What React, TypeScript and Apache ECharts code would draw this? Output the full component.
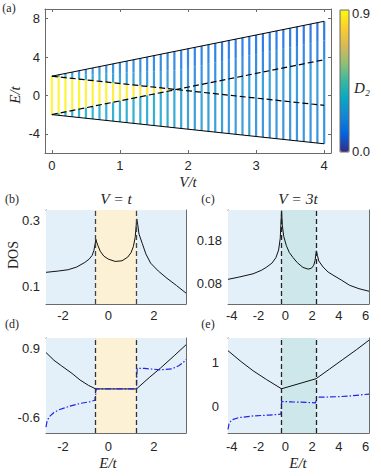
import { useEffect, useRef } from 'react';
import * as echarts from 'echarts';

// ---------- Panel (a): spectrum vs V ----------
const vGrid = [0, 0.1, 0.2, 0.3, 0.4, 0.5, 0.6, 0.7, 0.8, 0.9, 1.0, 1.1, 1.2, 1.3, 1.4, 1.5, 1.6, 1.7, 1.8, 1.9, 2.0,
  2.1, 2.2, 2.3, 2.4, 2.5, 2.6, 2.7, 2.8, 2.9, 3.0, 3.1, 3.2, 3.3, 3.4, 3.5, 3.6, 3.7, 3.8, 3.9, 4.0];
const upperEdge = [[0, 2.0], [4, 7.72]];
const lowerEdge = [[0, -2.0], [4, -5.04]];
const dashedDown = [[0, 2.0], [4, -1.04]];
const dashedUp = [[0, -2.0], [4, 3.72]];
const d2UpperOuter = [0.25, 0.25, 0.24, 0.24, 0.23, 0.23, 0.22, 0.22, 0.21, 0.21, 0.2, 0.2, 0.19, 0.19, 0.18, 0.18, 0.17, 0.17, 0.17,
  0.16, 0.15, 0.15, 0.14, 0.14, 0.13, 0.13, 0.13, 0.12, 0.12, 0.12, 0.12, 0.11, 0.11, 0.11, 0.11, 0.11, 0.1, 0.1, 0.1, 0.1, 0.1];
const d2UpperInner = [0.31, 0.31, 0.3, 0.3, 0.29, 0.29, 0.28, 0.28, 0.27, 0.27, 0.26, 0.26, 0.25, 0.25, 0.24, 0.24, 0.23, 0.23, 0.22,
  0.21, 0.21, 0.2, 0.2, 0.2, 0.19, 0.19, 0.19, 0.18, 0.18, 0.18, 0.17, 0.17, 0.17, 0.17, 0.16, 0.16, 0.16, 0.16, 0.15, 0.15, 0.15];
const d2Middle = [0.88, 0.88, 0.88, 0.88, 0.88, 0.87, 0.87, 0.87, 0.87, 0.86, 0.86, 0.86, 0.85, 0.85, 0.84, 0.84, 0.83, 0.82, 0.8,
  0.3, 0.29, 0.28, 0.28, 0.27, 0.27, 0.27, 0.26, 0.26, 0.26, 0.25, 0.25, 0.25, 0.25, 0.24, 0.24, 0.24, 0.24, 0.23, 0.23, 0.23, 0.23];
const d2Lower = [0.34, 0.34, 0.34, 0.34, 0.33, 0.33, 0.33, 0.33, 0.32, 0.32, 0.32, 0.31, 0.31, 0.31, 0.3, 0.3, 0.3, 0.29, 0.29,
  0.26, 0.25, 0.25, 0.25, 0.24, 0.24, 0.24, 0.23, 0.23, 0.23, 0.23, 0.22, 0.22, 0.22, 0.22, 0.21, 0.21, 0.21, 0.21, 0.2, 0.2, 0.2];
const aRangeV = [-0.1, 4.1];
const aRangeE = [-6, 9];
const aTicksV = [0, 1, 2, 3, 4];
const aTicksE = [-4, 0, 4, 8];
const d2Range = [0, 0.9];

// ---------- Panel (b): DOS, V = t ----------
const bRange = [-2.75, 3.42];
const bEdges = [-0.56, 1.24];
const dosBEnergy = [-2.75, -2.2, -1.77, -1.4, -1.04, -0.85, -0.72, -0.64, -0.58, -0.55, -0.52, -0.46, -0.36, -0.2, 0.0, 0.3, 0.6,
  0.85, 1.0, 1.1, 1.18, 1.25, 1.29, 1.35, 1.49, 1.65, 1.86, 2.2, 2.58, 3.0, 3.42];
const dosBValue = [0.144, 0.148, 0.152, 0.16, 0.174, 0.184, 0.195, 0.21, 0.232, 0.244, 0.236, 0.225, 0.208, 0.193, 0.184, 0.177, 0.179,
  0.19, 0.204, 0.222, 0.25, 0.306, 0.29, 0.26, 0.232, 0.2, 0.172, 0.148, 0.126, 0.104, 0.081];
const bDosRange = [0.048, 0.333];
const bTicksE = [-2, 0, 2];
const bTicksDos = [0.1, 0.3];

// ---------- Panel (c): DOS, V = 3t ----------
const cRange = [-4.28, 6.25];
const cEdges = [-0.28, 2.3];
const dosCEnergy = [-4.28, -3.5, -2.41, -1.8, -1.43, -1.0, -0.7, -0.5, -0.38, -0.28, -0.22, -0.12, 0.08, 0.3, 0.58, 0.9, 1.32, 1.7,
  1.95, 2.12, 2.22, 2.32, 2.4, 2.5, 2.82, 3.2, 3.56, 4.2, 4.8, 5.5, 6.25];
const dosCValue = [0.089, 0.094, 0.102, 0.11, 0.117, 0.127, 0.14, 0.158, 0.185, 0.25, 0.215, 0.19, 0.168, 0.152, 0.14, 0.128, 0.117, 0.113,
  0.115, 0.122, 0.133, 0.156, 0.145, 0.132, 0.118, 0.106, 0.099, 0.087, 0.075, 0.067, 0.061];
const cDosRange = [0.031, 0.252];
const cTicksE = [-4, -2, 0, 2, 4, 6];
const cTicksDos = [0.08, 0.18];

// ---------- Panel (d): gamma, V = t ----------
const gammaDEnergy = [-2.75, -2.4, -2.06, -1.6, -1.25, -0.88, -0.56, 1.24, 1.8, 2.3, 2.9, 3.42];
const gammaDValue = [0.82, 0.65, 0.525, 0.36, 0.216, 0.098, 0.02, 0.02, 0.27, 0.48, 0.75, 0.99];
const dGammaDEnergy = [-2.75, -2.7, -2.6, -2.4, -2.18, -1.7, -1.25, -0.8, -0.6, -0.56, -0.54, 1.24, 1.25, 1.27, 1.6, 2.3, 2.8, 3.1, 3.3, 3.42];
const dGammaDValue = [-0.82, -0.68, -0.59, -0.5, -0.44, -0.36, -0.3, -0.26, -0.23, -0.1, 0.02, 0.02, 0.3, 0.47, 0.47, 0.44, 0.46, 0.53, 0.6, 0.67];
const dRangeY = [-0.95, 1.14];
const dTicksY = [-0.6, 0.9];

// ---------- Panel (e): gamma, V = 3t ----------
const gammaEEnergy = [-4.28, -3.3, -2.4, -1.4, -0.28, 2.3, 3.3, 4.3, 5.3, 6.25];
const gammaEValue = [1.28, 1.03, 0.82, 0.62, 0.41, 0.64, 0.86, 1.08, 1.3, 1.52];
const dGammaEEnergy = [-4.28, -4.2, -4.0, -3.5, -2.4, -1.2, -0.33, -0.3, -0.28, 0.5, 1.5, 2.27, 2.3, 2.33, 3.0, 4.0, 5.0, 6.25];
const dGammaEValue = [-0.52, -0.38, -0.3, -0.25, -0.21, -0.19, -0.17, -0.08, 0.12, 0.11, 0.1, 0.09, 0.16, 0.22, 0.22, 0.23, 0.25, 0.29];
const eRangeY = [-0.6, 1.57];
const eTicksY = [0, 1];

// ---------- styling ----------
const PARULA = ['#352a87', '#0363e1', '#1485d4', '#06a7c6', '#38b99e', '#92bf73', '#d9ba56', '#fcce2e', '#f9fb0e'];
const SANS = '"Liberation Sans", Arial, Helvetica, sans-serif';
const SERIF = '"Liberation Serif", "Times New Roman", serif';
const AXIS_COLOR = '#6a6a6a';
const LABEL_COLOR = '#262626';
const BG_BLUE = '#e4f0f9';
const BG_YELLOW = '#fdf1d5';
const BG_TEAL = '#cde7ea';
const BLUE_LINE = '#2323e6';
const TICK_FONT = 13;

const grids = [
  { left: 45, top: 9, width: 286, height: 144 },
  { left: 46, top: 210, width: 140, height: 94 },
  { left: 228, top: 210, width: 141, height: 94 },
  { left: 46, top: 338, width: 140, height: 95 },
  { left: 228, top: 338, width: 141, height: 95 },
];

const fmt = (v: number) => String(Math.round(v * 1000) / 1000);

function axisPair(kind: 'x' | 'y', g: number, range: number[], ticks: number[], margin: number) {
  const positions = kind === 'x' ? ['bottom', 'top'] : ['left', 'right'];
  return positions.map((pos, k) => ({
    type: 'value', gridIndex: g, min: range[0], max: range[1], position: pos,
    axisLine: { show: true, onZero: false, lineStyle: { color: AXIS_COLOR, width: 1 } },
    axisTick: { show: true, inside: true, length: 3, customValues: ticks, lineStyle: { color: AXIS_COLOR } },
    axisLabel: { show: k === 0, customValues: ticks, margin, fontSize: TICK_FONT, fontFamily: SANS, color: LABEL_COLOR, formatter: fmt },
    splitLine: { show: false },
  }));
}

const lineAt = (line: number[][], v: number) =>
  line[0][1] + ((line[1][1] - line[0][1]) * (v - line[0][0])) / (line[1][0] - line[0][0]);

function stripeData() {
  const out: number[][] = [];
  vGrid.forEach((v, i) => {
    const top = lineAt(upperEdge, v);
    const bot = lineAt(lowerEdge, v);
    const a = lineAt(dashedDown, v);
    const b = lineAt(dashedUp, v);
    const hi = Math.max(a, b);
    const lo = Math.min(a, b);
    const midA = (top + hi) / 2;
    out.push([v, midA, top, d2UpperOuter[i]]);
    out.push([v, hi, midA, d2UpperInner[i]]);
    out.push([v, lo, hi, d2Middle[i]]);
    out.push([v, bot, lo, d2Lower[i]]);
  });
  return out;
}

const zip = (xs: number[], ys: number[]) => xs.map((x, i) => [x, ys[i]]);

function bgAreas(range: number[], edges: number[], mid: string) {
  return {
    silent: true,
    data: [
      [{ xAxis: range[0], itemStyle: { color: BG_BLUE } }, { xAxis: edges[0] }],
      [{ xAxis: edges[0], itemStyle: { color: mid } }, { xAxis: edges[1] }],
      [{ xAxis: edges[1], itemStyle: { color: BG_BLUE } }, { xAxis: range[1] }],
    ],
  };
}
function edgeLines(edges: number[], color: string) {
  return {
    silent: true,
    symbol: ['none', 'none'],
    label: { show: false },
    lineStyle: { color, type: [5, 3], width: 1.3 },
    data: edges.map((e) => ({ xAxis: e })),
  };
}

function lineSeries(axis: number, data: number[][], style: any, extra: any = {}) {
  return {
    type: 'line', xAxisIndex: axis, yAxisIndex: axis, data, showSymbol: false, symbol: 'none',
    silent: true, lineStyle: style, z: 3, ...extra,
  };
}

function text(x: number, y: number, t: string, font: any, extra: any = {}) {
  return {
    type: 'text', x, y, silent: true, ...extra,
    style: {
      text: t, fill: LABEL_COLOR, fontFamily: SERIF, fontSize: 12,
      align: 'center', verticalAlign: 'middle', textAlign: 'center', textVerticalAlign: 'middle',
      ...font,
    },
  };
}

function buildOption() {
  const italic = { fontStyle: 'italic' };
  return {
    animation: false,
    grid: grids.map((g) => ({ ...g, containLabel: false })),
    xAxis: [
      ...axisPair('x', 0, aRangeV, aTicksV, 6),
      ...axisPair('x', 1, bRange, bTicksE, 5),
      ...axisPair('x', 2, cRange, cTicksE, 5),
      ...axisPair('x', 3, bRange, bTicksE, 7),
      ...axisPair('x', 4, cRange, cTicksE, 7),
    ],
    yAxis: [
      ...axisPair('y', 0, aRangeE, aTicksE, 5),
      ...axisPair('y', 1, bDosRange, bTicksDos, 6),
      ...axisPair('y', 2, cDosRange, cTicksDos, 6),
      ...axisPair('y', 3, dRangeY, dTicksY, 6),
      ...axisPair('y', 4, eRangeY, eTicksY, 9),
    ],
    visualMap: {
      type: 'continuous', min: d2Range[0], max: d2Range[1], seriesIndex: 0, dimension: 3,
      inRange: { color: PARULA }, left: 340, top: 10, itemWidth: 9, itemHeight: 142,
      calculable: false, padding: 0, orient: 'vertical', hoverLink: false,
    },
    series: [
      {
        type: 'custom', xAxisIndex: 0, yAxisIndex: 0, data: stripeData(), silent: true, clip: true,
        dimensions: ['V', 'lo', 'hi', 'D2'],
        encode: { x: 0, y: [1, 2] },
        renderItem: (_p: any, api: any) => {
          const v = api.value(0);
          const pTop = api.coord([v, api.value(2)]);
          const pBot = api.coord([v, api.value(1)]);
          return {
            type: 'rect',
            shape: { x: pTop[0] - 1.1, y: pTop[1], width: 2.2, height: pBot[1] - pTop[1] },
            style: { fill: api.visual('color'), opacity: 0.82 },
          };
        },
      },
      lineSeries(0, upperEdge, { color: '#000', width: 1 }),
      lineSeries(0, lowerEdge, { color: '#000', width: 1 }),
      lineSeries(0, dashedDown, { color: '#000', width: 1.2, type: [6, 3] }),
      lineSeries(0, dashedUp, { color: '#000', width: 1.2, type: [6, 3] }),
      lineSeries(2, zip(dosBEnergy, dosBValue), { color: '#111', width: 1 }, {
        markArea: bgAreas(bRange, bEdges, BG_YELLOW), markLine: edgeLines(bEdges, '#444'),
      }),
      lineSeries(4, zip(dosCEnergy, dosCValue), { color: '#111', width: 1 }, {
        markArea: bgAreas(cRange, cEdges, BG_TEAL), markLine: edgeLines(cEdges, '#222'),
      }),
      lineSeries(6, zip(gammaDEnergy, gammaDValue), { color: '#111', width: 1 }, {
        markArea: bgAreas(bRange, bEdges, BG_YELLOW), markLine: edgeLines(bEdges, '#333'),
      }),
      lineSeries(6, zip(dGammaDEnergy, dGammaDValue), { color: BLUE_LINE, width: 1.2, type: [6, 2, 1.5, 2] }),
      lineSeries(8, zip(gammaEEnergy, gammaEValue), { color: '#111', width: 1 }, {
        markArea: bgAreas(cRange, cEdges, BG_TEAL), markLine: edgeLines(cEdges, '#222'),
      }),
      lineSeries(8, zip(dGammaEEnergy, dGammaEValue), { color: BLUE_LINE, width: 1.2, type: [6, 2, 1.5, 2] }),
    ],
    graphic: {
      elements: [
        { type: 'rect', shape: { x: 340, y: 10, width: 9, height: 142 }, style: { fill: 'none', stroke: AXIS_COLOR, lineWidth: 1 }, silent: true, z: 10 },
        text(9, 8, '(a)', { fontSize: 12 }),
        text(15, 95, 'E/t', { ...italic, fontSize: 15 }, { rotation: Math.PI / 2 }),
        text(188, 182, 'V/t', { ...italic, fontSize: 15 }),
        text(352, 13, '0.9', { fontFamily: SANS, fontSize: TICK_FONT, align: 'left', textAlign: 'left' }),
        text(352, 151, '0.0', { fontFamily: SANS, fontSize: TICK_FONT, align: 'left', textAlign: 'left' }),
        text(362, 88, 'D₂', { ...italic, fontSize: 15 }),
        text(12, 199, '(b)', { fontSize: 12 }),
        text(116, 198, 'V = t', { ...italic, fontSize: 15.5 }),
        text(208, 199, '(c)', { fontSize: 12 }),
        text(298, 198, 'V = 3t', { ...italic, fontSize: 15.5 }),
        text(13, 255, 'DOS', { fontSize: 14 }, { rotation: Math.PI / 2 }),
        text(70, 227, 'EL', { fontSize: 11 }),
        text(253, 227, 'EL', { fontSize: 11 }),
        text(302, 227, 'NL', { fontSize: 11 }),
        text(12, 324, '(d)', { fontSize: 12 }),
        text(208, 324, '(e)', { fontSize: 12 }),
        text(67, 363, 'γ', { ...italic, fontSize: 15 }),
        text(67, 388, '∂γ', { ...italic, fontSize: 15, fill: BLUE_LINE }),
        text(108, 463, 'E/t', { ...italic, fontSize: 15 }),
        text(298, 463, 'E/t', { ...italic, fontSize: 15 }),
      ],
    },
  };
}

export default function App() {
  const ref = useRef<HTMLDivElement>(null);
  useEffect(() => {
    if (!ref.current) return;
    const chart = echarts.init(ref.current, null, { renderer: 'svg' });
    chart.setOption(buildOption() as any);
    return () => chart.dispose();
  }, []);
  return <div ref={ref} style={{ position: 'absolute', left: 0, top: 0, width: 381, height: 476 }} />;
}
